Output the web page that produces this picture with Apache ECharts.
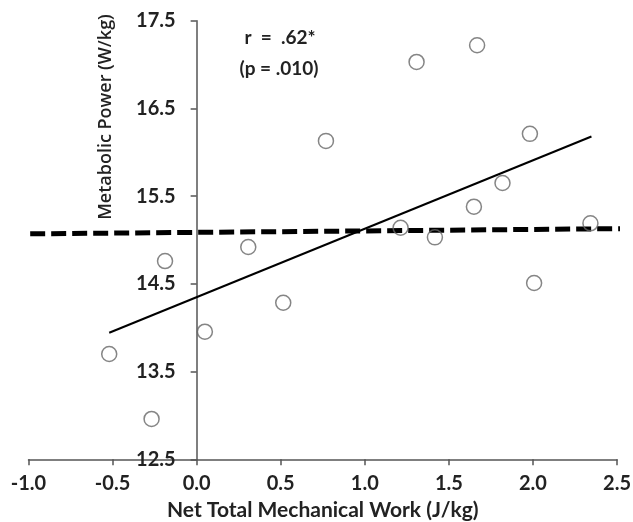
<!DOCTYPE html>
<html>
<head>
<meta charset="utf-8">
<script src="https://cdn.jsdelivr.net/npm/echarts@6/dist/echarts.min.js"></script>
<style>html,body{margin:0;padding:0;background:#fff}#c{width:633px;height:522px}</style>
</head>
<body>
<div id="c"></div>
<script>
// Data
var workX = [-0.52, -0.268, -0.188, 0.049, 0.307, 0.515, 0.769, 1.213, 1.308, 1.417, 1.649, 1.668, 1.819, 1.982, 2.007, 2.342];
var powerY = [13.70, 12.96, 14.76, 13.955, 14.92, 14.285, 16.13, 15.14, 17.03, 15.03, 15.38, 17.22, 15.65, 16.21, 14.51, 15.19];
var fitLineX = [-0.52, 2.348];
var fitLineY = [13.943, 16.18];
var refLineX = [-0.99, 2.55];
var refLineY = [15.07, 15.13];
var yTicks = [12.5, 13.5, 14.5, 15.5, 16.5, 17.5];
var xTitle = 'Net Total Mechanical Work (J/kg)';
var yTitle = 'Metabolic Power (W/kg)';
var annotation1 = 'r  =  .62*';
var annotation2 = '(p = .010)';

var FONT = 'Lato, "Open Sans", sans-serif';
var pts = workX.map(function (x, i) { return [x, powerY[i]]; });
var fit = fitLineX.map(function (x, i) { return [x, fitLineY[i]]; });
var ref = refLineX.map(function (x, i) { return [x, refLineY[i]]; });

var GRID_LEFT = 28.5, GRID_RIGHT = 16;
var plotW = 633 - GRID_LEFT - GRID_RIGHT;
// y axis sits at x = 0 of the x range [-1, 2.5]
var yAxisOffset = -plotW * (0 - (-1)) / (2.5 - (-1));

var chart = echarts.init(document.getElementById('c'), null, {renderer: 'canvas'});
chart.setOption({
  animation: false,
  backgroundColor: '#fff',
  grid: {left: GRID_LEFT, right: GRID_RIGHT, top: 20.7, bottom: 62.7, containLabel: false, outerBoundsMode: 'none'},
  xAxis: {
    type: 'value', min: -1, max: 2.5, interval: 0.5,
    name: xTitle, nameLocation: 'middle', nameGap: 40,
    nameTextStyle: {fontFamily: FONT, fontSize: 21, fontWeight: 'bold', color: '#222'},
    axisLine: {onZero: false, lineStyle: {color: '#555', width: 1.5}},
    axisTick: {show: true, length: 6, lineStyle: {color: '#555', width: 1.5}},
    axisLabel: {margin: 14, fontFamily: FONT, fontSize: 20, fontWeight: 'bold', color: '#222',
      formatter: function (v) { return v.toFixed(1); }},
    splitLine: {show: false}
  },
  yAxis: {
    type: 'value', min: 12.5, max: 17.5, interval: 0.5, offset: yAxisOffset,
    axisLine: {onZero: false, lineStyle: {color: '#555', width: 1.5}},
    axisTick: {show: true, length: 6, customValues: yTicks, lineStyle: {color: '#555', width: 1.5}},
    axisLabel: {margin: 21, customValues: yTicks, fontFamily: FONT, fontSize: 20, fontWeight: 'bold', color: '#222',
      formatter: function (v) { return v.toFixed(1); }},
    splitLine: {show: false}
  },
  graphic: [
    {type: 'text', x: 106, y: 117, rotation: Math.PI / 2,
      style: {text: yTitle, fontFamily: '"Open Sans", sans-serif', fontSize: 18, fontWeight: 600, fill: '#222', align: 'center', verticalAlign: 'middle'}},
    {type: 'text', x: 280, y: 38, style: {text: annotation1, fontFamily: FONT, fontSize: 19, fontWeight: 'bold', fill: '#222', align: 'center', verticalAlign: 'middle'}},
    {type: 'text', x: 279, y: 69, style: {text: annotation2, fontFamily: FONT, fontSize: 19, fontWeight: 'bold', fill: '#222', align: 'center', verticalAlign: 'middle'}}
  ],
  series: [
    {type: 'line', data: ref, symbol: 'none', clip: false, silent: true,
      lineStyle: {color: '#000', width: 5, type: [15, 6]}, z: 2},
    {type: 'line', data: fit, symbol: 'none', silent: true,
      lineStyle: {color: '#000', width: 2}, z: 3},
    {type: 'scatter', data: pts, symbol: 'circle', symbolSize: 15,
      itemStyle: {color: 'rgba(0,0,0,0)', borderColor: '#666', borderWidth: 1.5}, z: 4}
  ]
});
</script>
</body>
</html>
